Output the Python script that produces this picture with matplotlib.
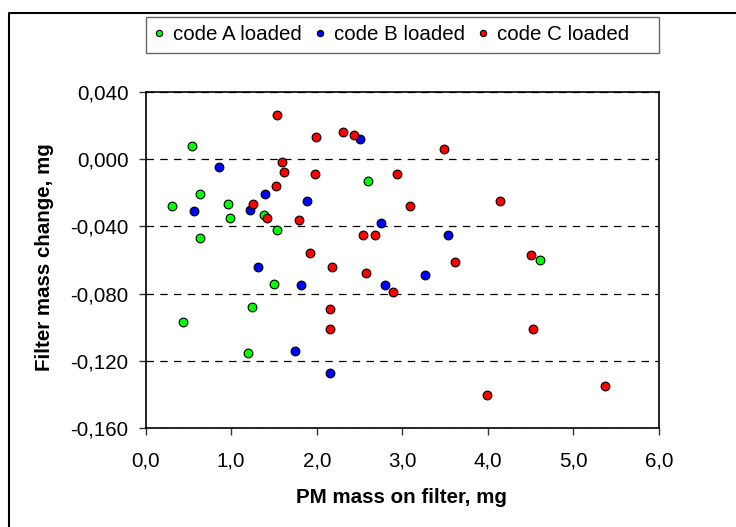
import numpy as np
import matplotlib
matplotlib.use('Agg')
import matplotlib.pyplot as plt
from matplotlib.lines import Line2D
from matplotlib.patches import Rectangle

plt.rcParams['font.family'] = ['Liberation Sans', 'DejaVu Sans']

# values
code_a_x = [0.31, 0.545, 0.64, 0.64, 0.965, 0.985, 1.38, 1.53, 1.495, 0.435, 1.245, 1.20, 2.60, 4.61]
code_a_y = [-0.028, 0.008, -0.021, -0.047, -0.027, -0.035, -0.033, -0.042, -0.074, -0.097, -0.088, -0.115, -0.013, -0.060]

code_b_x = [0.56, 0.855, 1.215, 1.40, 1.31, 1.885, 1.82, 1.745, 2.16, 2.51, 2.755, 2.80, 3.27, 3.53]
code_b_y = [-0.031, -0.005, -0.030, -0.021, -0.064, -0.025, -0.075, -0.114, -0.127, 0.012, -0.038, -0.075, -0.069, -0.045]

code_c_x = [1.53, 1.59, 1.62, 1.26, 1.42, 1.525, 1.79, 1.98, 1.99, 2.305, 2.43, 1.915, 2.18, 2.15,
            2.16, 2.54, 2.57, 2.68, 2.895, 2.94, 3.095, 3.49, 3.61, 3.985, 4.14, 4.50, 4.53, 5.37]
code_c_y = [0.026, -0.002, -0.008, -0.027, -0.035, -0.016, -0.036, -0.009, 0.013, 0.016, 0.014, -0.056, -0.064, -0.089,
            -0.101, -0.045, -0.068, -0.045, -0.079, -0.009, -0.028, 0.006, -0.061, -0.140, -0.025, -0.057, -0.101, -0.135]

series_names = ['code A loaded', 'code B loaded', 'code C loaded']
series_colors = ['#00ff00', '#0000ff', '#ff0000']

xtick_values = [0, 1, 2, 3, 4, 5, 6]
xtick_labels = ['0,0', '1,0', '2,0', '3,0', '4,0', '5,0', '6,0']
ytick_values = [-0.16, -0.12, -0.08, -0.04, 0.0, 0.04]
ytick_labels = ['-0,160', '-0,120', '-0,080', '-0,040', '0,000', '0,040']

W, H = 736, 527
fig = plt.figure(figsize=(W / 100, H / 100), dpi=100)
ax = fig.add_axes([145.7 / W, 98.7 / H, (659 - 145.7) / W, 336.6 / H])

series = [(code_a_x, code_a_y), (code_b_x, code_b_y), (code_c_x, code_c_y)]
for (xs, ys), name, col in zip(series, series_names, series_colors):
    ax.plot(xs, ys, linestyle='none', marker='o', ms=6.3, mfc=col, mec='black', mew=0.8,
            label=name, zorder=3)

ax.set_xlim(0, 6)
ax.set_ylim(-0.16, 0.04)
ax.set_xticks(xtick_values)
ax.set_xticklabels(xtick_labels)
ax.set_yticks(ytick_values)
ax.set_yticklabels(ytick_labels)
ax.tick_params(direction='out', length=4.8, width=1, labelsize=14.8, color='#333333')
ax.tick_params(axis='x', pad=12)
ax.tick_params(axis='y', pad=7.5)

ax.set_axisbelow(True)
ax.yaxis.grid(True, color='black', linewidth=0.9, linestyle=(0, (6, 5)))
for s in ax.spines.values():
    s.set_linewidth(1.2)
    s.set_color('black')

ax.set_xlabel('PM mass on filter, mg', fontsize=14.8, fontweight='bold')
ax.xaxis.label.set_verticalalignment('baseline')
ax.xaxis.set_label_coords(401.7 / W, 23.7 / H, transform=fig.transFigure)
ax.set_ylabel('Filter mass change, mg', fontsize=14.8, fontweight='bold')
ax.yaxis.label.set_verticalalignment('baseline')
ax.yaxis.set_label_coords(50 / W, (H - 257.3) / H, transform=fig.transFigure)

# legend entries without frame, frame drawn as its own box
leg = ax.legend(loc='center left', bbox_to_anchor=(153.7 / W, 1 - 34.7 / H),
                bbox_transform=fig.transFigure, ncol=3, borderaxespad=0, borderpad=0,
                fontsize=14.8, markerscale=0.72, handlelength=0.55, handletextpad=0.38,
                columnspacing=0.63, frameon=False)
fig.add_artist(Rectangle((146 / W, 1 - 52.7 / H), (659.3 - 146) / W, 36 / H,
                         transform=fig.transFigure, fill=False, edgecolor='#666666',
                         linewidth=1.0))

# outer chart border (cut off on the right and bottom)
fig.add_artist(Line2D([8.5 / W, 8.5 / W, 1.0], [0, 1 - 13 / H, 1 - 13 / H],
                      transform=fig.transFigure, color='black', linewidth=1.5))

fig.savefig('out.png', dpi=100)
